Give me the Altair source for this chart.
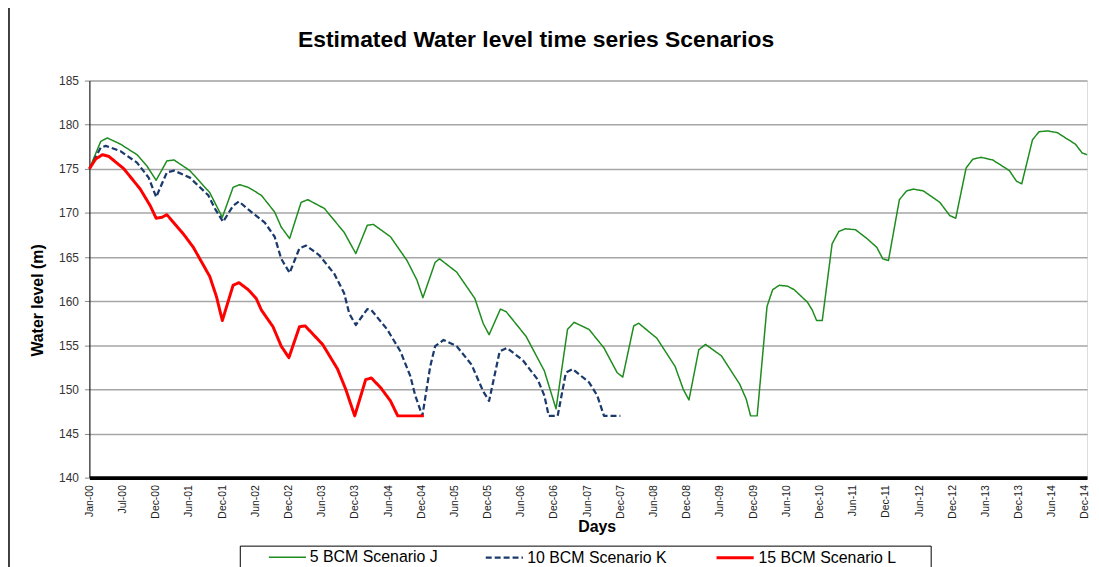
import json
import altair as alt
import pandas as pd

# ---- data ----
series_names = ["5 BCM Scenario J", "10 BCM Scenario K", "15 BCM Scenario L"]

green_day = [0, 62, 98, 170, 261, 316, 366, 425, 464, 551,
             660, 729, 788, 824, 871, 943, 1016, 1052, 1098, 1161,
             1198, 1289, 1397, 1461, 1524, 1557, 1651, 1742, 1796, 1829,
             1896, 1920, 2014, 2114, 2159, 2192, 2254, 2286, 2395, 2495,
             2559, 2622, 2658, 2740, 2822, 2894, 2925, 2985, 3012, 3112,
             3212, 3257, 3288, 3342, 3379, 3466, 3566, 3602, 3626, 3662,
             3716, 3747, 3783, 3829, 3865, 3937, 3964, 3988, 4019, 4073,
             4110, 4146, 4201, 4264, 4318, 4351, 4382, 4442, 4482, 4518,
             4573, 4664, 4718, 4751, 4808, 4845, 4890, 4954, 5045, 5084,
             5113, 5172, 5208, 5253, 5308, 5353, 5407, 5444, 5471]
green_level = [175.0, 178.1, 178.5, 177.8, 176.6, 175.3, 173.7, 175.9, 176.0, 174.8,
               172.3, 169.5, 172.9, 173.2, 172.9, 172.0, 170.1, 168.4, 167.1, 171.2,
               171.5, 170.5, 167.8, 165.4, 168.6, 168.7, 167.3, 164.6, 162.4, 160.4,
               164.4, 164.8, 163.3, 160.3, 157.5, 156.2, 159.1, 158.8, 156.0, 152.1,
               147.8, 156.8, 157.6, 156.8, 154.7, 151.9, 151.4, 157.2, 157.5, 155.8,
               152.6, 150.0, 148.8, 154.5, 155.1, 153.8, 150.6, 148.9, 147.0, 147.0,
               159.4, 161.3, 161.8, 161.7, 161.3, 159.9, 159.0, 157.8, 157.8, 166.5,
               167.9, 168.2, 168.1, 167.1, 166.1, 164.8, 164.6, 171.5, 172.5, 172.7,
               172.5, 171.2, 169.7, 169.4, 175.1, 176.1, 176.3, 176.0, 174.8, 173.6,
               173.3, 178.3, 179.2, 179.3, 179.1, 178.5, 177.8, 176.8, 176.6]

blue_day = [0, 62, 89, 170, 261, 325, 366, 425, 464, 551,
            652, 688, 733, 788, 820, 871, 962, 1016, 1052, 1098,
            1152, 1188, 1261, 1343, 1397, 1425, 1461, 1524, 1546, 1633,
            1706, 1760, 1787, 1826, 1869, 1896, 1942, 2014, 2096, 2159,
            2192, 2250, 2290, 2377, 2459, 2495, 2519, 2568, 2613, 2650,
            2740, 2785, 2822, 2912]
blue_level = [175.0, 177.4, 177.6, 177.0, 175.7, 174.0, 171.8, 174.6, 174.8, 174.0,
              172.0, 170.5, 169.0, 170.8, 171.3, 170.4, 168.9, 167.3, 164.8, 163.2,
              166.0, 166.3, 165.2, 163.1, 160.9, 158.6, 157.3, 159.1, 159.0, 156.8,
              154.3, 151.5, 149.3, 147.0, 152.6, 154.9, 155.6, 154.9, 152.8, 149.8,
              148.7, 154.3, 154.7, 153.3, 151.1, 149.3, 147.0, 147.0, 151.9, 152.3,
              150.8, 149.3, 147.0, 147.0]

red_day = [0, 34, 71, 107, 189, 279, 334, 366, 397, 425,
           516, 570, 660, 697, 729, 788, 820, 871, 915, 943,
           1007, 1052, 1094, 1152, 1183, 1279, 1361, 1406, 1455, 1515,
           1546, 1597, 1651, 1691, 1834]
red_level = [175.0, 176.1, 176.6, 176.4, 175.0, 172.7, 170.8, 169.4, 169.5, 169.8,
             167.6, 166.1, 162.8, 160.5, 157.8, 161.8, 162.1, 161.3, 160.3, 159.0,
             157.1, 154.9, 153.6, 157.1, 157.2, 155.1, 152.3, 150.0, 147.0, 151.1,
             151.3, 150.2, 148.7, 147.0, 147.0]

tick_days = [0, 182, 364, 546, 728, 910, 1092, 1274, 1456, 1638, 1820,
             2002, 2184, 2366, 2548, 2730, 2912, 3094, 3276, 3458, 3640,
             3822, 4004, 4186, 4368, 4550, 4732, 4914, 5096, 5278, 5460]
tick_labels = ["Jan-00", "Jul-00", "Dec-00", "Jun-01", "Dec-01", "Jun-02", "Dec-02",
               "Jun-03", "Dec-03", "Jun-04", "Dec-04", "Jun-05", "Dec-05", "Jun-06",
               "Dec-06", "Jun-07", "Dec-07", "Jun-08", "Dec-08", "Jun-09", "Dec-09",
               "Jun-10", "Dec-10", "Jun-11", "Dec-11", "Jun-12", "Dec-12", "Jun-13",
               "Dec-13", "Jun-14", "Dec-14"]
y_ticks = [140, 145, 150, 155, 160, 165, 170, 175, 180, 185]

title_text = "Estimated Water level time series Scenarios"

colors = ["#1e8c1e", "#1a3a6b", "#ff0000"]
dashes = [[1, 0], [6, 3], [1, 0]]
widths = [1.5, 3.0, 4.0]

FONT = "Liberation Sans"

frames = []
for name, d, v in [(series_names[0], green_day, green_level),
                   (series_names[1], blue_day, blue_level),
                   (series_names[2], red_day, red_level)]:
    frames.append(pd.DataFrame({"day": d, "level": v, "series": name}))
df = pd.concat(frames, ignore_index=True)

label_expr = json.dumps(tick_labels) + "[round(datum.value / 182)]"

lines = alt.Chart(df).mark_line(strokeCap="butt", strokeJoin="round").encode(
    x=alt.X("day:Q",
            scale=alt.Scale(domain=[0, 5471], nice=False, zero=False),
            axis=alt.Axis(values=tick_days, labelExpr=label_expr, labelAngle=270,
                          labelFont=FONT, labelFontSize=10.5, labelColor="#222",
                          labelPadding=7, labelOverlap=False, labelFlush=False,
                          labelBound=False, ticks=False, grid=False,
                          domainColor="black", domainWidth=4,
                          title="Days", titleFont=FONT, titleFontSize=16,
                          titleFontWeight="bold", titleColor="black",
                          titleX=511, titleY=54, titleAlign="center",
                          titleBaseline="alphabetic")),
    y=alt.Y("level:Q",
            scale=alt.Scale(domain=[140, 185], nice=False, zero=False),
            axis=alt.Axis(values=y_ticks, labelFont=FONT, labelFontSize=12,
                          labelColor="#333", labelPadding=6, tickSize=5,
                          tickColor="#888", domainColor="black", domainWidth=1,
                          gridColor="#a6a6a6", gridWidth=1.5,
                          title="Water level (m)", titleFont=FONT, titleFontSize=16,
                          titleFontWeight="bold", titleColor="black",
                          titleAngle=270, titleX=-52, titleY=221,
                          titleAlign="center", titleBaseline="middle")),
    color=alt.Color("series:N",
                    scale=alt.Scale(domain=series_names, range=colors),
                    legend=alt.Legend(orient="none", legendX=180, legendY=460,
                                      direction="horizontal", title=None,
                                      labelFont=FONT, labelFontSize=16,
                                      labelColor="black", labelLimit=300,
                                      symbolType="stroke", symbolSize=1400,
                                      labelOffset=3, columnPadding=43)),
    strokeDash=alt.StrokeDash("series:N",
                              scale=alt.Scale(domain=series_names, range=dashes)),
    strokeWidth=alt.StrokeWidth("series:N",
                                scale=alt.Scale(domain=series_names, range=widths)),
)

title_mark = alt.Chart(alt.Data(values=[{"t": title_text}])).mark_text(
    font=FONT, fontSize=23, fontWeight="bold", color="black",
    align="center", baseline="alphabetic"
).encode(text="t:N", x=alt.value(450), y=alt.value(-34))

legend_box = alt.Chart(alt.Data(values=[{}])).mark_rect(
    fillOpacity=0, stroke="black", strokeWidth=1
).encode(x=alt.value(152), x2=alt.value(848), y=alt.value(469), y2=alt.value(540))

left_border = alt.Chart(alt.Data(values=[{}])).mark_rule(
    color="black", strokeWidth=1.5
).encode(x=alt.value(-81), y=alt.value(-79), y2=alt.value(500))

chart = alt.layer(left_border, title_mark, lines, legend_box).properties(
    width=1005,
    height=400,
    autosize=alt.AutoSizeParams(type="none"),
    padding={"left": 82, "top": 71, "right": 4, "bottom": 100},
).configure_view(stroke="#a0a0a0", strokeWidth=1.5).configure(background="white")

chart.save("out.html", embed_options={"renderer": "svg", "actions": False})
